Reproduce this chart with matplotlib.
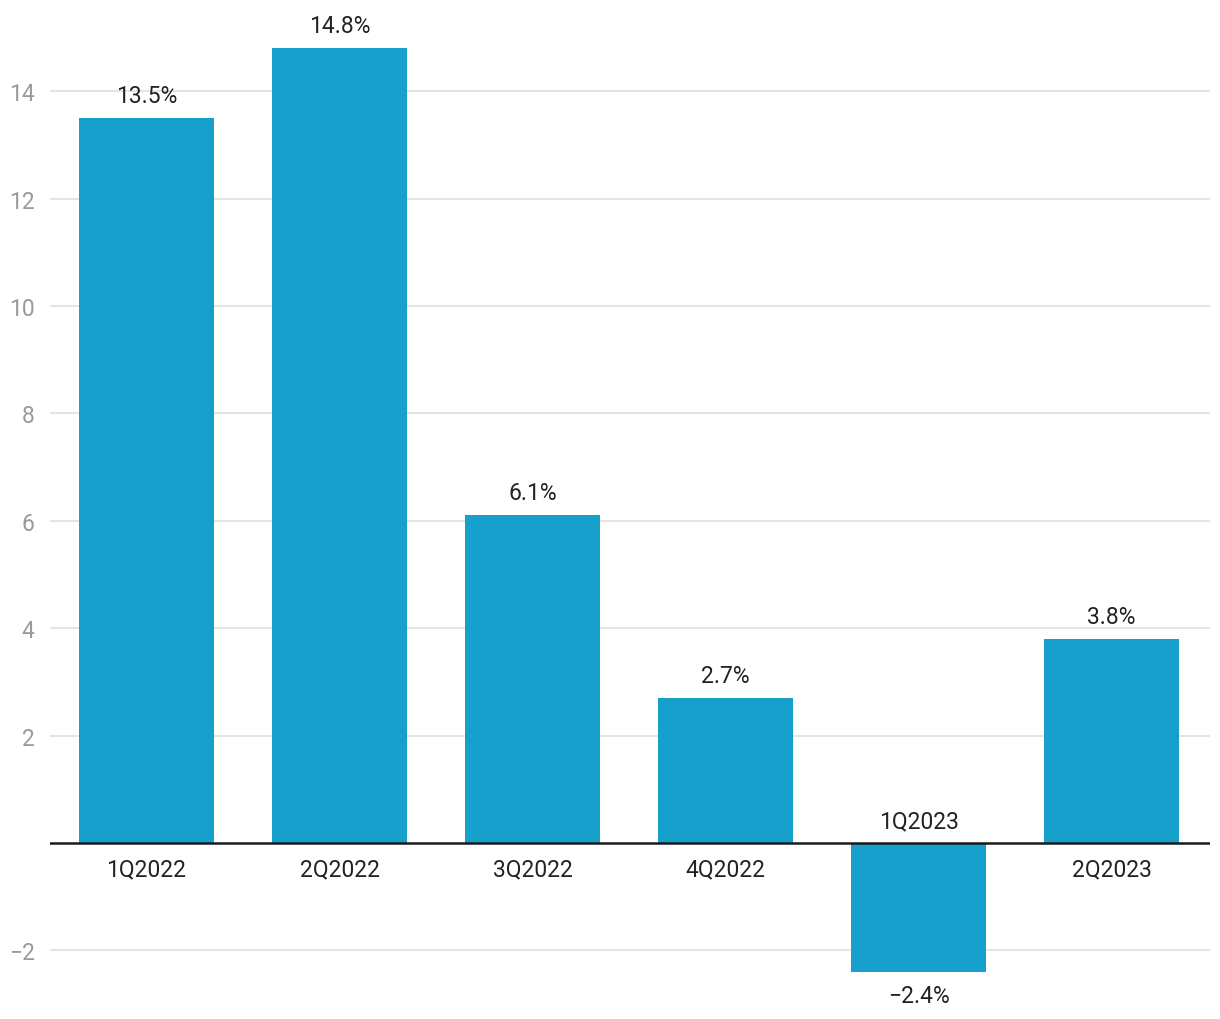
import matplotlib.pyplot as plt

plt.rcParams['font.family'] = ['Roboto', 'DejaVu Sans']

# Data
quarters = ['1Q2022', '2Q2022', '3Q2022', '4Q2022', '1Q2023', '2Q2023']
growth = [13.5, 14.8, 6.1, 2.7, -2.4, 3.8]
yticks = [-2, 2, 4, 6, 8, 10, 12, 14]

BAR_COLOR = '#18a0cc'
FS = 16.5

fig = plt.figure(figsize=(12.2, 10.2), dpi=100)
ax = fig.add_axes([50 / 1220, 9 / 1020, 1160 / 1220, 1000 / 1020])

x = list(range(len(quarters)))
ax.bar(x, growth, width=0.7, color=BAR_COLOR, zorder=2)

ax.set_xlim(-0.5, 5.51)
ax.set_ylim(-3.11, 15.51)

ax.set_yticks(yticks)
ax.set_yticklabels([str(t).replace('-', '\u2212') for t in yticks])
ax.tick_params(axis='y', length=0, pad=11, labelsize=FS, labelcolor='#9a9a9a')
ax.set_xticks([])
ax.grid(axis='y', color='#e2e2e2', linewidth=1.3, zorder=0)
for s in ax.spines.values():
    s.set_visible(False)

ax.axhline(0, color='#1a1a1a', linewidth=1.8, zorder=3)

for xi, q, v in zip(x, quarters, growth):
    label = f'{v:.1f}%'.replace('-', '\u2212')
    if v >= 0:
        ax.annotate(label, (xi, v), xytext=(0, 8), textcoords='offset points',
                    ha='center', va='bottom', fontsize=FS, color='#222222')
        ax.annotate(q, (xi, 0), xytext=(0, -10), textcoords='offset points',
                    ha='center', va='top', fontsize=FS, color='#222222')
    else:
        ax.annotate(label, (xi, v), xytext=(0, -9), textcoords='offset points',
                    ha='center', va='top', fontsize=FS, color='#222222')
        ax.annotate(q, (xi, 0), xytext=(0, 8), textcoords='offset points',
                    ha='center', va='bottom', fontsize=FS, color='#222222')

fig.savefig('out.png', dpi=100)
